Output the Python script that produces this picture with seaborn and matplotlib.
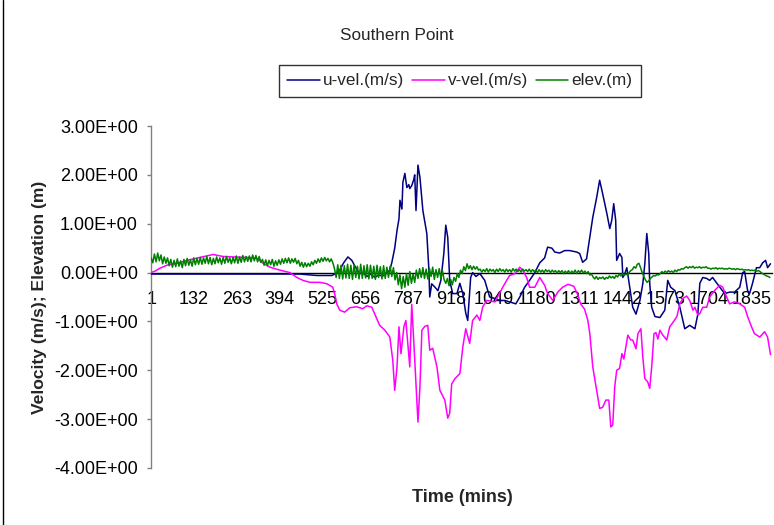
import numpy as np
import pandas as pd
import matplotlib
matplotlib.use("Agg")
import matplotlib.pyplot as plt
from matplotlib.ticker import FuncFormatter
import seaborn as sns

# ---- data -------------------------------------------------------------
n_steps = 1897
x_tick_labels = [1, 132, 263, 394, 525, 656, 787, 918, 1049, 1180, 1311, 1442, 1573, 1704, 1835]
y_ticks = [3, 2, 1, 0, -1, -2, -3, -4]

# u-velocity (m/s)
u_time = [1, 150, 303, 455, 507, 553, 562, 577, 589, 602, 614, 626, 638, 647, 660, 672,
          684, 696, 709, 721, 730, 736, 745, 752, 758, 761, 767, 770, 776, 782, 788, 791,
          797, 803, 806, 810, 816, 822, 831, 843, 849, 852, 858, 868, 877, 886, 895, 901,
          907, 913, 922, 935, 944, 953, 962, 968, 977, 983, 993, 1005, 1020, 1035, 1051,
          1066, 1081, 1096, 1115, 1127, 1142, 1157, 1173, 1188, 1203, 1212, 1225, 1234,
          1249, 1264, 1280, 1301, 1310, 1319, 1331, 1341, 1350, 1362, 1371, 1380, 1393,
          1402, 1408, 1414, 1420, 1423, 1432, 1439, 1442, 1448, 1454, 1463, 1472, 1482,
          1494, 1503, 1509, 1515, 1521, 1524, 1530, 1540, 1555, 1570, 1579, 1588, 1601,
          1616, 1631, 1646, 1662, 1671, 1677, 1686, 1698, 1707, 1716, 1729, 1738, 1753,
          1768, 1783, 1799, 1808, 1814, 1823, 1829, 1838, 1850, 1860, 1869, 1878, 1884, 1893]
u_vel = [-0.03, -0.03, -0.03, -0.03, -0.06, -0.06, -0.03, 0.05, 0.20, 0.32, 0.25, 0.10,
         -0.02, 0.00, -0.08, -0.03, -0.10, -0.05, -0.07, 0.00, 0.05, 0.20, 0.50, 0.86,
         1.10, 1.48, 1.30, 1.85, 2.03, 1.74, 1.80, 1.72, 1.78, 1.90, 2.00, 1.27, 2.20,
         1.95, 1.27, 0.80, 0.10, -0.50, -0.23, -0.30, -0.37, -0.16, 0.39, 0.97, 0.72,
         -0.16, -0.43, -0.43, -0.22, -0.43, -0.83, -0.98, -0.10, 0.00, -0.08, -0.02,
         -0.16, -0.50, -0.53, -0.57, -0.57, -0.60, -0.64, -0.50, -0.30, -0.16, 0.00,
         0.20, 0.30, 0.52, 0.50, 0.42, 0.40, 0.45, 0.45, 0.42, 0.39, 0.21, 0.28, 0.72,
         1.13, 1.54, 1.89, 1.62, 1.21, 0.90, 1.07, 1.41, 1.07, 0.25, 0.39, 0.31, -0.10,
         -0.02, 0.10, -0.30, -0.71, -0.85, -0.57, -0.22, 0.18, 0.80, 0.39, -0.22, -0.71,
         -0.90, -0.92, -0.77, -0.16, -0.30, -0.37, -0.71, -1.15, -1.08, -1.15, -0.85,
         -0.22, -0.10, -0.12, -0.16, -0.10, -0.22, -0.30, -0.43, -0.40, -0.40, -0.30,
         0.00, 0.02, -0.37, -0.43, -0.22, 0.10, 0.10, 0.20, 0.25, 0.10, 0.18]

# v-velocity (m/s)
v_time = [1, 13, 28, 49, 80, 110, 150, 190, 220, 251, 294, 324, 343, 364, 394, 425, 446,
          465, 486, 517, 538, 556, 562, 568, 577, 592, 608, 629, 647, 660, 675, 684, 699,
          715, 730, 739, 745, 752, 758, 764, 773, 779, 785, 791, 797, 803, 810, 816, 822,
          828, 837, 846, 852, 861, 874, 883, 898, 907, 913, 919, 929, 944, 953, 962, 974,
          983, 996, 1005, 1014, 1026, 1051, 1075, 1087, 1096, 1112, 1127, 1136, 1148,
          1157, 1173, 1188, 1203, 1212, 1228, 1243, 1258, 1274, 1292, 1304, 1313, 1325,
          1335, 1341, 1350, 1362, 1371, 1380, 1390, 1399, 1405, 1411, 1417, 1423, 1432,
          1439, 1445, 1451, 1457, 1466, 1472, 1482, 1488, 1497, 1503, 1509, 1518, 1524,
          1530, 1537, 1543, 1549, 1555, 1564, 1576, 1585, 1595, 1607, 1616, 1625, 1637,
          1646, 1656, 1662, 1671, 1677, 1686, 1698, 1707, 1722, 1738, 1747, 1759, 1768,
          1783, 1799, 1814, 1823, 1835, 1844, 1860, 1875, 1884, 1893]
v_vel = [0.00, 0.03, 0.09, 0.15, 0.19, 0.25, 0.31, 0.37, 0.33, 0.32, 0.31, 0.29, 0.19,
         0.11, 0.05, 0.00, -0.10, -0.16, -0.20, -0.20, -0.23, -0.30, -0.45, -0.64, -0.77,
         -0.81, -0.72, -0.70, -0.74, -0.68, -0.71, -0.85, -1.08, -1.18, -1.32, -1.79,
         -2.41, -1.93, -1.11, -1.66, -1.11, -0.98, -1.45, -1.93, -0.65, -1.38, -2.28,
         -3.06, -2.35, -1.18, -1.10, -1.08, -1.59, -1.55, -1.93, -2.41, -2.61, -2.98,
         -2.88, -2.28, -2.17, -2.07, -1.52, -1.15, -1.45, -0.98, -0.87, -0.98, -0.70,
         -0.57, -0.60, -0.30, -0.16, -0.06, -0.02, 0.11, 0.05, -0.10, -0.30, -0.30,
         -0.10, -0.26, -0.43, -0.57, -0.40, -0.30, -0.24, -0.28, -0.45, -0.64, -0.75,
         -0.98, -1.25, -1.93, -2.41, -2.78, -2.76, -2.61, -2.61, -3.16, -3.12, -2.35,
         -2.00, -1.96, -1.66, -1.77, -1.52, -1.28, -1.38, -1.38, -1.56, -1.25, -1.15,
         -1.74, -2.17, -2.24, -2.37, -1.93, -1.25, -1.23, -1.36, -1.18, -1.28, -1.38,
         -1.11, -1.02, -0.90, -0.64, -0.53, -0.48, -0.57, -0.77, -0.71, -0.87, -0.84,
         -0.71, -0.71, -0.50, -0.37, -0.26, -0.30, -0.50, -0.64, -0.60, -0.64, -0.71,
         -0.90, -1.11, -1.25, -1.32, -1.21, -1.32, -1.68]

# surface elevation (m), one reading every 5 steps
elev = [0.30, 0.20, 0.38, 0.22, 0.40, 0.24, 0.36, 0.18, 0.32, 0.19, 0.30,
        0.14, 0.27, 0.11, 0.25, 0.12, 0.28, 0.13, 0.24, 0.10, 0.27, 0.14, 0.29, 0.15,
        0.26, 0.13, 0.30, 0.16, 0.29, 0.17,
        0.31, 0.17, 0.30, 0.19, 0.33, 0.18, 0.31, 0.16, 0.29, 0.18, 0.32, 0.20, 0.30,
        0.17, 0.31, 0.19, 0.33, 0.21, 0.30, 0.18, 0.31, 0.20, 0.34, 0.19, 0.32, 0.21,
        0.35, 0.22, 0.33, 0.23,
        0.34, 0.22, 0.36, 0.24, 0.35, 0.22, 0.33, 0.21,
        0.27, 0.15, 0.26, 0.14, 0.25, 0.16, 0.27, 0.13, 0.24, 0.15, 0.26, 0.17, 0.28, 0.19,
        0.29, 0.20, 0.30, 0.19, 0.28, 0.21, 0.29, 0.18, 0.25,
        0.13, 0.21, 0.11, 0.20, 0.12, 0.19, 0.13, 0.22, 0.16,
        0.25, 0.19, 0.28, 0.21, 0.30, 0.23, 0.31, 0.24, 0.29, 0.22, 0.28,
        0.20, 0.08,
        -0.10, 0.16, -0.12, 0.15, -0.13, 0.14, -0.11, 0.17, -0.12, 0.15, -0.14, 0.16,
        -0.10, 0.13, -0.13, 0.17, -0.12, 0.14, -0.11, 0.16, -0.13, 0.15, -0.12, 0.13,
        -0.14, 0.15, -0.10, 0.12, -0.13, 0.14, -0.12, 0.11, -0.10, 0.13, -0.08, 0.10,
        -0.15, 0.00, -0.25, -0.05, -0.33, -0.08, -0.30, -0.02, -0.26, 0.02, -0.22, -0.03,
        -0.20, 0.05, -0.12,
        0.08, -0.10, 0.10, -0.12, 0.07, -0.13, 0.09, -0.08, 0.11, -0.14, 0.06, -0.10,
        0.08, -0.12, 0.03,
        -0.15, -0.22, -0.12, -0.27, -0.14, -0.25, -0.10,
        -0.18, -0.02, -0.10, 0.05, -0.02, 0.12, 0.04, 0.18, 0.08,
        0.14, 0.06, 0.13, 0.07, 0.12, 0.05,
        0.07, 0.01, 0.06, 0.02, 0.08, 0.01, 0.07, 0.03, 0.06, 0.00, 0.07, 0.02, 0.08,
        0.03, 0.06, 0.01, 0.07, 0.02, 0.06, 0.01, 0.08, 0.03, 0.07, 0.02, 0.06, 0.01,
        0.07, 0.03, 0.06, 0.02, 0.07, 0.01, 0.06, 0.02, 0.05, 0.00, 0.06, 0.01, 0.05,
        0.00, 0.06, 0.02, 0.05, 0.00, 0.05, 0.01, 0.04, -0.01, 0.04,
        0.00, 0.04, -0.02, 0.03, -0.01, 0.04, -0.02, 0.03, -0.01, 0.05, -0.02, 0.04,
        0.00, 0.05, -0.01, 0.03, -0.02, 0.02, -0.05, -0.03,
        -0.09, -0.13, -0.08, -0.14, -0.10, -0.12, -0.09, -0.14, -0.10, -0.12, -0.07,
        -0.11, -0.08, -0.12, -0.06, -0.09,
        -0.03, -0.07, -0.02, -0.06, -0.03, -0.05, 0.00, 0.04,
        0.06, 0.12, 0.09, 0.17, 0.19, 0.10,
        0.00, -0.08, -0.15,
        -0.20, -0.17, -0.12, -0.09, -0.06, -0.07, -0.04, -0.05,
        -0.02, 0.02, -0.01, 0.03, 0.00, 0.04, 0.01, 0.03, 0.00, 0.05, 0.02, 0.06,
        0.05, 0.08, 0.07,
        0.10, 0.12, 0.09, 0.12, 0.10, 0.13, 0.09, 0.11, 0.10, 0.12, 0.09, 0.11, 0.10,
        0.12, 0.09,
        0.09, 0.07, 0.09, 0.08, 0.10, 0.07, 0.09, 0.08, 0.09, 0.07, 0.08, 0.07, 0.09,
        0.08, 0.07, 0.08, 0.06, 0.08, 0.07, 0.06, 0.07, 0.05,
        0.06, 0.05, 0.06, 0.04, 0.05, 0.04, 0.05, 0.03, 0.04,
        0.02, -0.01, -0.03, -0.05, -0.07, -0.08, -0.10]
elev_time = np.arange(len(elev)) * 5 + 1

series_names = ["u-vel.(m/s)", "v-vel.(m/s)", "elev.(m)"]
series_colors = ["#000080", "#FF00FF", "#008000"]

# ---- figure -----------------------------------------------------------
sns.set_style("white")
plt.rcParams["font.family"] = ["Liberation Sans", "DejaVu Sans"]

W, H = 774, 525
fig = plt.figure(figsize=(W / 100, H / 100), dpi=100)
ax = fig.add_axes([151 / W, 1 - 468 / H, 621 / W, 342 / H])

frames = [
    pd.DataFrame({"t": u_time, "val": u_vel}),
    pd.DataFrame({"t": v_time, "val": v_vel}),
    pd.DataFrame({"t": elev_time, "val": elev}),
]
for df, name, col in zip(frames, series_names, series_colors):
    sns.lineplot(data=df, x="t", y="val", ax=ax, color=col, linewidth=1.1,
                 label=name, sort=False, legend=False, zorder=3)

ax.set_xlim(0.5, n_steps + 0.5)
ax.set_ylim(-4, 3)
ax.set_xlabel("")
ax.set_ylabel("")

for side in ["top", "right"]:
    ax.spines[side].set_visible(False)
ax.spines["left"].set_color("#808080")
ax.spines["left"].set_linewidth(1.0)
ax.spines["bottom"].set_position(("data", 0))
ax.spines["bottom"].set_color("black")
ax.spines["bottom"].set_linewidth(1.0)
ax.spines["bottom"].set_zorder(2)

ax.set_yticks(y_ticks)
ax.yaxis.set_major_formatter(FuncFormatter(lambda v, p: f"{v:.2E}"))
ax.tick_params(axis="y", length=3, width=1, color="#808080", pad=6.5,
               labelsize=13, labelcolor="black", left=True)
ax.set_xticks(x_tick_labels)
ax.set_xticklabels([str(v) for v in x_tick_labels])
ax.tick_params(axis="x", length=0, pad=13.5, labelsize=13, labelcolor="black")
ax.grid(False)

fig.text(396.7 / W, 1 - 36 / H, "Southern Point", ha="center", va="center", fontsize=12.3)
fig.text(40 / W, 1 - 297.5 / H, "Velocity (m/s); Elevation (m)", rotation=90,
         ha="center", va="center", fontsize=12.6, fontweight="bold")
fig.text(462.5 / W, 1 - 497 / H, "Time (mins)", ha="center", va="center",
         fontsize=13, fontweight="bold")

handles = [plt.Line2D([], [], color=c, linewidth=1.1) for c in series_colors]
leg = fig.legend(handles, series_names, loc="center",
                 bbox_to_anchor=(460 / W, 1 - 81 / H), ncol=3, fontsize=12.3,
                 frameon=True, fancybox=False, edgecolor="black",
                 handlelength=1.9, handletextpad=0.2, columnspacing=0.45,
                 borderpad=0.5, borderaxespad=0)
leg.get_frame().set_linewidth(1.0)

# chart-area edge
fig.add_artist(plt.Line2D([3.5 / W, 3.5 / W], [0, 1], transform=fig.transFigure,
                          color="black", linewidth=1.0))

fig.savefig("out.png", dpi=100)
